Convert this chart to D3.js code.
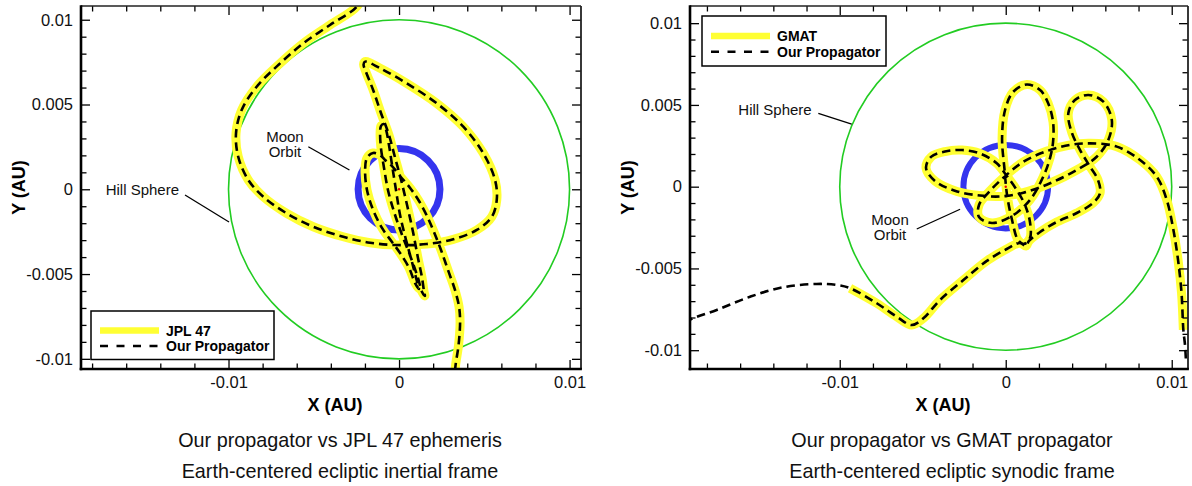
<!DOCTYPE html>
<html><head><meta charset="utf-8">
<script src="https://cdn.jsdelivr.net/npm/d3@7"></script>
<style>
body{margin:0;background:#fff;}
svg{display:block;font-family:"Liberation Sans",Arial,Helvetica,sans-serif;}
</style></head><body>
<svg id="c" width="1192" height="486"></svg>
<script>
// ---------- DATA (AU) ----------
const xMajorTicks = [-0.01, 0, 0.01];
const xTickLabels = ["-0.01", "0", "0.01"];
const yMajorTicks = [-0.01, -0.005, 0, 0.005, 0.01];
const yTickLabels = ["-0.01", "-0.005", "0", "0.005", "0.01"];
const hillRadius = 0.01;
const moonRadiusLeft = 0.0024;
const moonRadiusRight = 0.00255;

// Left: JPL 47 and our propagator (overlapping), inertial frame
const leftX = [-0.00217,-0.00248,-0.00405,-0.00561,-0.00708,-0.00835,-0.00923,-0.00956,-0.00943,-0.00884,-0.00796,-0.00659,-0.00503,-0.00327,-0.00170,-0.00013,0.00162,0.00318,0.00456,0.00544,0.00573,0.00563,0.00494,0.00377,0.00221,0.00045,-0.00111,-0.00199,-0.00208,
-0.00194,-0.00152,-0.00106,-0.00059,-0.00023,0.00012,0.00047,0.00082,0.00111,0.00135,0.00147,0.00152,
0.00135,0.00111,0.00070,0.00018,-0.00029,-0.00065,-0.00088,-0.00106,-0.00111,-0.00106,-0.00091,-0.00076,-0.00059,-0.00041,-0.00018,0.00006,0.00041,0.00076,0.00106,0.00117,
0.00094,0.00059,0.00006,-0.00041,-0.00100,-0.00152,-0.00188,-0.00199,-0.00188,-0.00152,-0.00111,-0.00082,
-0.00041,0.00006,0.00065,0.00117,0.00164,0.00205,0.00246,0.00287,0.00328,0.00352,0.00358,0.00349,0.00331,0.00326];
const leftY = [0.01146,0.01077,0.00969,0.00861,0.00733,0.00605,0.00468,0.00330,0.00192,0.00055,-0.00044,-0.00142,-0.00221,-0.00280,-0.00315,-0.00329,-0.00323,-0.00295,-0.00240,-0.00162,-0.00063,0.00055,0.00212,0.00369,0.00507,0.00625,0.00714,0.00753,0.00736,
0.00692,0.00586,0.00450,0.00320,0.00185,0.00055,-0.00093,-0.00252,-0.00405,-0.00523,-0.00606,-0.00629,
-0.00606,-0.00523,-0.00405,-0.00270,-0.00134,-0.00004,0.00126,0.00244,0.00332,0.00373,0.00385,0.00350,0.00261,0.00143,-0.00004,-0.00152,-0.00299,-0.00429,-0.00547,-0.00588,
-0.00553,-0.00464,-0.00376,-0.00311,-0.00228,-0.00122,-0.00004,0.00114,0.00185,0.00214,0.00202,0.00173,
0.00137,0.00078,0.00008,-0.00069,-0.00158,-0.00252,-0.00358,-0.00476,-0.00594,-0.00694,-0.00783,-0.00919,-0.01042,-0.01125];

// Right: our propagator, synodic frame
const rightX = [-0.01992,-0.01902,-0.01741,-0.01540,-0.01340,-0.01139,-0.01018,-0.00938,
-0.00777,-0.00657,-0.00566,-0.00496,-0.00396,-0.00255,-0.00114,0.00006,0.00086,0.00122,0.00140,
0.00207,0.00307,0.00428,0.00526,0.00568,0.00556,0.00508,0.00448,0.00399,0.00377,0.00417,0.00498,0.00588,0.00639,0.00618,0.00548,0.00428,0.00267,0.00106,-0.00034,-0.00155,-0.00293,-0.00426,-0.00480,-0.00450,-0.00366,-0.00263,-0.00155,-0.00054,0.00002,0.00066,0.00116,0.00146,0.00146,0.00110,0.00074,
0.00038,0.00008,-0.00007,-0.00022,-0.00004,0.00044,0.00127,0.00207,0.00255,0.00285,0.00285,0.00267,0.00225,0.00146,0.00038,-0.00083,-0.00161,-0.00161,-0.00107,-0.00016,0.00104,0.00249,0.00387,0.00508,0.00669,0.00809,0.00910,0.00970,0.01008,0.01038,0.01059,0.01070,
0.01080,0.01086];
const rightY = [-0.00889,-0.00815,-0.00754,-0.00673,-0.00615,-0.00595,-0.00601,-0.00621,
-0.00713,-0.00795,-0.00846,-0.00805,-0.00693,-0.00571,-0.00454,-0.00381,-0.00344,-0.00363,-0.00332,
-0.00277,-0.00216,-0.00161,-0.00100,-0.00040,0.00041,0.00122,0.00224,0.00328,0.00449,0.00530,0.00561,0.00520,0.00408,0.00286,0.00183,0.00102,0.00021,-0.00037,-0.00060,-0.00054,-0.00029,0.00035,0.00114,0.00182,0.00215,0.00224,0.00203,0.00143,0.00072,-0.00020,-0.00112,-0.00216,-0.00314,-0.00350,-0.00326,
-0.00204,-0.00051,0.00102,0.00298,0.00469,0.00579,0.00625,0.00591,0.00512,0.00396,0.00273,0.00176,0.00059,-0.00081,-0.00179,-0.00222,-0.00185,-0.00112,-0.00039,0.00053,0.00151,0.00218,0.00255,0.00265,0.00245,0.00163,0.00061,-0.00081,-0.00253,-0.00448,-0.00650,-0.00876,
-0.00968,-0.01072];
// GMAT trace covers points 7..86 of the synodic trajectory
const gmatX = rightX.slice(7, 87);
const gmatY = rightY.slice(7, 87);

// ---------- DRAW ----------
const svg = d3.select("#c");
const YELLOW = "#ffff33", GREEN = "#22cc22", BLUE = "#3434ee";
const FONT = "'Liberation Sans', Arial, Helvetica, sans-serif";

function panel(cfg) {
  const x = d3.scaleLinear().domain(cfg.xDomain).range([cfg.left, cfg.right]);
  const y = d3.scaleLinear().domain(cfg.yDomain).range([cfg.bottom, cfg.top]);
  const g = svg.append("g");
  const clipId = "clip" + cfg.id;
  svg.append("defs").append("clipPath").attr("id", clipId).append("rect")
    .attr("x", cfg.left).attr("y", cfg.top)
    .attr("width", cfg.right - cfg.left).attr("height", cfg.bottom - cfg.top);
  const plot = g.append("g").attr("clip-path", `url(#${clipId})`);

  // Hill sphere
  plot.append("ellipse").attr("cx", x(0)).attr("cy", y(0))
    .attr("rx", x(hillRadius) - x(0)).attr("ry", y(0) - y(hillRadius))
    .attr("fill", "none").attr("stroke", GREEN).attr("stroke-width", 1.6);
  // Moon orbit
  plot.append("ellipse").attr("cx", x(0)).attr("cy", y(0))
    .attr("rx", x(cfg.moonR) - x(0)).attr("ry", y(0) - y(cfg.moonR))
    .attr("fill", "none").attr("stroke", BLUE).attr("stroke-width", cfg.moonW);

  const line = d3.line().x(d => x(d[0])).y(d => y(d[1])).curve(d3.curveCatmullRom.alpha(0.5));
  const ref = d3.zip(cfg.refX, cfg.refY);
  const prop = d3.zip(cfg.propX, cfg.propY);
  plot.append("path").attr("d", line(ref)).attr("fill", "none")
    .attr("stroke", YELLOW).attr("stroke-width", 9).attr("stroke-linejoin", "round");
  plot.append("path").attr("d", line(prop)).attr("fill", "none")
    .attr("stroke", "#000").attr("stroke-width", 2.6).attr("stroke-dasharray", "8.5,5");
  plot.append("circle").attr("cx", x(0)).attr("cy", y(0)).attr("r", 1.2).attr("fill", "#e00");

  // axes
  const xMinor = d3.range(-0.018, 0.0101, 0.002).filter(v => !xMajorTicks.some(m => Math.abs(m - v) < 1e-9));
  const yMinor = d3.range(-0.01, 0.0101, 0.001).filter(v => !yMajorTicks.some(m => Math.abs(m - v) < 1e-9));
  const mk = (axis, tr) => {
    const a = g.append("g").attr("transform", tr).call(axis);
    a.select(".domain").remove();
    a.selectAll("line").attr("stroke", "#000").attr("stroke-width", 1.3);
    a.selectAll("text").attr("font-size", 16.5).attr("font-family", FONT).attr("fill", "#111");
    return a;
  };
  const fmtX = (d) => xTickLabels[xMajorTicks.indexOf(d)];
  const fmtY = (d) => yTickLabels[yMajorTicks.indexOf(d)];
  mk(d3.axisBottom(x).tickValues(xMajorTicks).tickFormat(fmtX).tickSize(-9).tickPadding(7), `translate(0,${cfg.bottom})`);
  mk(d3.axisBottom(x).tickValues(xMinor).tickFormat("").tickSize(-5.5), `translate(0,${cfg.bottom})`);
  mk(d3.axisTop(x).tickValues(xMajorTicks).tickFormat("").tickSize(-9), `translate(0,${cfg.top})`);
  mk(d3.axisTop(x).tickValues(xMinor).tickFormat("").tickSize(-5.5), `translate(0,${cfg.top})`);
  mk(d3.axisLeft(y).tickValues(yMajorTicks).tickFormat(fmtY).tickSize(-9).tickPadding(8), `translate(${cfg.left},0)`);
  mk(d3.axisLeft(y).tickValues(yMinor).tickFormat("").tickSize(-5.5), `translate(${cfg.left},0)`);
  mk(d3.axisRight(y).tickValues(yMajorTicks).tickFormat("").tickSize(-9), `translate(${cfg.right},0)`);
  mk(d3.axisRight(y).tickValues(yMinor).tickFormat("").tickSize(-5.5), `translate(${cfg.right},0)`);

  // frame
  g.append("line").attr("x1", cfg.left).attr("x2", cfg.right).attr("y1", cfg.top).attr("y2", cfg.top)
    .attr("stroke", "#222").attr("stroke-width", 1.6);
  g.append("line").attr("x1", cfg.right).attr("x2", cfg.right).attr("y1", cfg.top).attr("y2", cfg.bottom)
    .attr("stroke", "#222").attr("stroke-width", 1.8);
  g.append("line").attr("x1", cfg.left).attr("x2", cfg.left).attr("y1", cfg.top - 0.8).attr("y2", cfg.bottom + 1.3)
    .attr("stroke", "#000").attr("stroke-width", 2.6);
  g.append("line").attr("x1", cfg.left - 1.3).attr("x2", cfg.right + 0.9).attr("y1", cfg.bottom).attr("y2", cfg.bottom)
    .attr("stroke", "#000").attr("stroke-width", 2.6);

  // axis titles
  const cx = (cfg.left + cfg.right) / 2;
  g.append("text").attr("x", cx + 4).attr("y", 411).attr("text-anchor", "middle")
    .attr("font-size", 18).attr("font-weight", "bold").attr("font-family", FONT).text("X (AU)");
  g.append("text").attr("transform", `translate(${cfg.left - 56},${(cfg.top + cfg.bottom) / 2}) rotate(-90)`)
    .attr("text-anchor", "middle").attr("font-size", 18).attr("font-weight", "bold").attr("font-family", FONT).text("Y (AU)");

  // annotations
  const ann = g.append("g").attr("font-family", FONT).attr("font-size", 15).attr("fill", "#111");
  ann.append("text").attr("x", x(cfg.hillText[0])).attr("y", y(cfg.hillText[1])).attr("dy", "0.35em")
    .attr("text-anchor", "end").text("Hill Sphere");
  ann.append("line").attr("x1", x(cfg.hillLead[0])).attr("y1", y(cfg.hillLead[1]))
    .attr("x2", x(cfg.hillLead[2])).attr("y2", y(cfg.hillLead[3])).attr("stroke", "#000").attr("stroke-width", 1.3);
  ann.append("text").attr("x", x(cfg.moonText[0])).attr("y", y(cfg.moonText[1])).attr("dy", "0.35em")
    .attr("text-anchor", "middle").text("Moon");
  ann.append("text").attr("x", x(cfg.moonText[0])).attr("y", y(cfg.moonText[2])).attr("dy", "0.35em")
    .attr("text-anchor", "middle").text("Orbit");
  ann.append("line").attr("x1", x(cfg.moonLead[0])).attr("y1", y(cfg.moonLead[1]))
    .attr("x2", x(cfg.moonLead[2])).attr("y2", y(cfg.moonLead[3])).attr("stroke", "#000").attr("stroke-width", 1.3);

  // legend
  const L = cfg.legend;
  const lg = g.append("g");
  lg.append("rect").attr("x", L.x).attr("y", L.y).attr("width", L.w).attr("height", L.h)
    .attr("fill", "#fff").attr("stroke", "#000").attr("stroke-width", 1.5);
  lg.append("line").attr("x1", L.x + 9).attr("x2", L.x + 68).attr("y1", L.y + L.r1).attr("y2", L.y + L.r1)
    .attr("stroke", YELLOW).attr("stroke-width", 6.5);
  lg.append("line").attr("x1", L.x + 9).attr("x2", L.x + 68).attr("y1", L.y + L.r2).attr("y2", L.y + L.r2)
    .attr("stroke", "#000").attr("stroke-width", 2.6).attr("stroke-dasharray", "8,8.5");
  lg.append("text").attr("x", L.x + 75).attr("y", L.y + L.r1).attr("dy", "0.36em")
    .attr("font-size", 14).attr("font-weight", "bold").attr("font-family", FONT).text(cfg.refName);
  lg.append("text").attr("x", L.x + 75).attr("y", L.y + L.r2).attr("dy", "0.36em")
    .attr("font-size", 14).attr("font-weight", "bold").attr("font-family", FONT).text("Our Propagator");

  // captions
  const cap = g.append("g").attr("font-family", FONT).attr("font-size", 19.8).attr("fill", "#111").attr("text-anchor", "middle");
  cap.append("text").attr("x", cfg.capX).attr("y", 447).text(cfg.cap1);
  cap.append("text").attr("x", cfg.capX).attr("y", 478).text(cfg.cap2);
}

panel({
  id: "L", left: 81, right: 581, top: 6, bottom: 369,
  xDomain: [-0.01865, 0.01067], yDomain: [-0.0106, 0.01081],
  moonR: moonRadiusLeft, moonW: 7,
  refX: leftX, refY: leftY, propX: leftX, propY: leftY, refName: "JPL 47",
  hillText: [-0.0129, 0], hillLead: [-0.01255, -0.00034, -0.00997, -0.00193],
  moonText: [-0.00669, 0.0031, 0.00221], moonLead: [-0.00532, 0.00251, -0.00291, 0.00114],
  legend: { x: 91, y: 311, w: 183, h: 48.5, r1: 19.5, r2: 35 },
  capX: 340, cap1: "Our propagator vs JPL 47 ephemeris", cap2: "Earth-centered ecliptic inertial frame"
});
panel({
  id: "R", left: 690, right: 1188, top: 6, bottom: 369,
  xDomain: [-0.01902, 0.01098], yDomain: [-0.01115, 0.01105],
  moonR: moonRadiusRight, moonW: 6,
  refX: gmatX, refY: gmatY, propX: rightX, propY: rightY, refName: "GMAT",
  hillText: [-0.01169, 0.00469], hillLead: [-0.01129, 0.00449, -0.00928, 0.00383],
  moonText: [-0.00697, -0.00204, -0.00295], moonLead: [-0.00536, -0.00259, -0.00275, -0.00138],
  legend: { x: 702, y: 16, w: 184, h: 50, r1: 20, r2: 35.7 },
  capX: 952, cap1: "Our propagator vs GMAT propagator", cap2: "Earth-centered ecliptic synodic frame"
});
</script>
</body></html>
